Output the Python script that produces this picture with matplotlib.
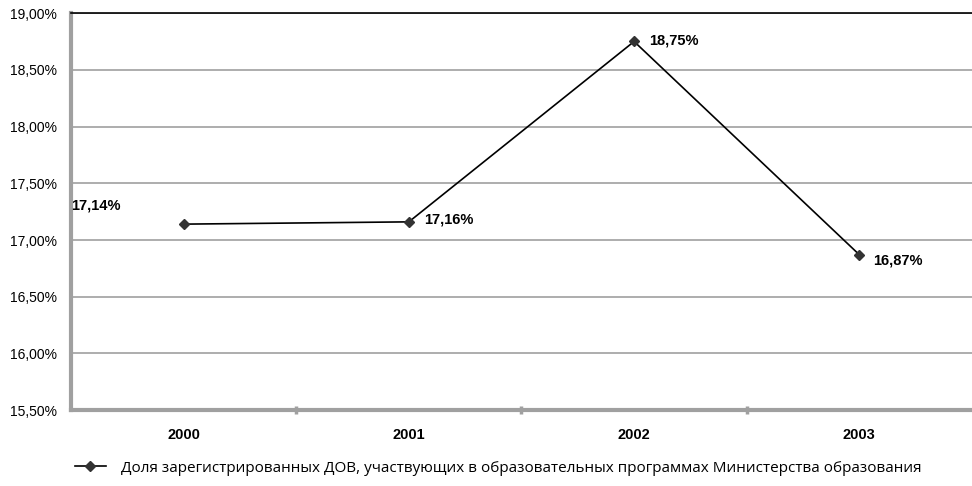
import matplotlib
matplotlib.use('Agg')
import matplotlib.pyplot as plt

# доля ДОВ по годам, %
years = ['2000', '2001', '2002', '2003']
share = [17.14, 17.16, 18.75, 16.87]
labels = ['17,14%', '17,16%', '18,75%', '16,87%']
y_ticks = [15.5, 16.0, 16.5, 17.0, 17.5, 18.0, 18.5, 19.0]
legend_text = 'Доля зарегистрированных ДОВ, участвующих в образовательных программах Министерства образования'

plt.rcParams['font.family'] = ['Liberation Sans', 'DejaVu Sans']

fig = plt.figure(figsize=(9.72, 4.86), dpi=100)
ax = fig.add_axes([0.073, 0.156, 0.927, 0.817])

x = list(range(len(years)))
line, = ax.plot(x, share, color='black', lw=1.2, marker='D', ms=5,
                markerfacecolor='#333333', markeredgecolor='#333333', zorder=3)

ax.set_xlim(-0.5, len(years) - 0.5)
ax.set_ylim(15.5, 19.0)
ax.set_yticks(y_ticks)
ax.set_yticklabels([('%.2f' % v).replace('.', ',') + '%' for v in y_ticks], fontsize=10)
ax.yaxis.grid(True, color='#a0a0a0', lw=1.2)
ax.set_axisbelow(True)
ax.tick_params(axis='y', length=0, pad=10)

ax.set_xticks(x)
ax.set_xticklabels(years, fontsize=10.5, fontweight='bold')
ax.set_xticks([0.5, 1.5, 2.5], minor=True)
ax.tick_params(axis='x', which='major', length=0, pad=13)
ax.tick_params(axis='x', which='minor', length=6, width=2.5, color='#a0a0a0', direction='inout')

for side in ['left', 'bottom']:
    ax.spines[side].set_color('#a0a0a0')
    ax.spines[side].set_linewidth(3)
ax.spines['top'].set_color('black')
ax.spines['top'].set_linewidth(1.2)
ax.spines['right'].set_visible(False)

# подписи значений
offsets = [(-112, 19), (15, 2), (15, 1), (14, -6)]
for xi, v, lab, off in zip(x, share, labels, offsets):
    ax.annotate(lab, (xi, v), xytext=off, textcoords='offset pixels',
                fontsize=10.5, fontweight='bold', va='center', ha='left')

fig.legend([line], [legend_text], loc='center left', bbox_to_anchor=(0.063, 0.037),
           frameon=False, handlelength=2.0, handletextpad=1.0,
           prop={'family': 'Open Sans', 'size': 11})

fig.savefig('out.png')
